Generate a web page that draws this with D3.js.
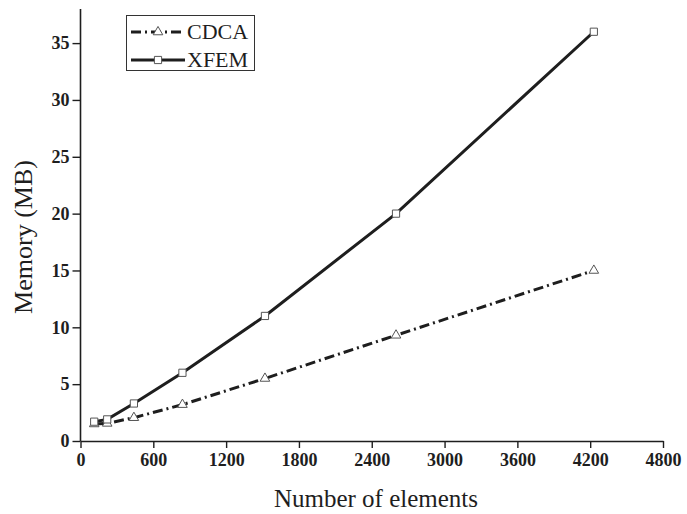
<!DOCTYPE html>
<html>
<head>
<meta charset="utf-8">
<script src="https://cdn.jsdelivr.net/npm/d3@7"></script>
<style>
  body { margin: 0; background: #fff; }
  svg { display: block; font-family: "Liberation Serif", "Times New Roman", serif; }
</style>
</head>
<body>
<svg width="687" height="514"></svg>
<script>
// element counts and memory use
const elements = [113, 220, 440, 840, 1520, 2600, 4230];
const cdca = [1.5, 1.55, 2.05, 3.2, 5.5, 9.3, 15.0];
const xfem = [1.7, 1.9, 3.3, 6.0, 11.0, 20.0, 36.0];
const xTicks = [0, 600, 1200, 1800, 2400, 3000, 3600, 4200, 4800];
const yTicks = [0, 5, 10, 15, 20, 25, 30, 35];

const svg = d3.select("svg");
const ink = "#1e1e1e";

const x = d3.scaleLinear().domain([0, 4800]).range([80.5, 663]);
const y = d3.scaleLinear().domain([0, 38]).range([441, 9]);

// axes
const xAxis = svg.append("g").attr("transform", "translate(0,441)")
  .call(d3.axisBottom(x).tickValues(xTicks).tickFormat(d3.format("d"))
    .tickSize(7).tickPadding(5).tickSizeOuter(0));
const yAxis = svg.append("g").attr("transform", "translate(80.5,0)")
  .call(d3.axisLeft(y).tickValues(yTicks).tickFormat(d3.format("d"))
    .tickSize(8).tickPadding(3).tickSizeOuter(0));

[xAxis, yAxis].forEach(a => {
  a.attr("font-family", null).attr("font-size", null);
  a.select(".domain").attr("stroke", ink).attr("stroke-width", 1.6);
  a.selectAll(".tick line").attr("stroke", ink).attr("stroke-width", 1.4);
  a.selectAll(".tick text").attr("fill", ink)
    .style("font-size", "18px").style("font-weight", "bold");
});
// y axis line runs past the bottom, left tick at zero crosses
yAxis.select(".domain").attr("d", "M0,441V9");

// axis titles
svg.append("text").attr("x", 376).attr("y", 507).attr("text-anchor", "middle")
  .attr("fill", ink).style("font-size", "25px").text("Number of elements");
svg.append("text").attr("transform", "translate(32,237) rotate(-90)").attr("text-anchor", "middle")
  .attr("fill", ink).style("font-size", "26px").text("Memory (MB)");

const line = vals => d3.line().x((d, i) => x(elements[i])).y(d => y(d))(vals);

// CDCA dash-dot
svg.append("path").attr("d", line(cdca)).attr("fill", "none")
  .attr("stroke", ink).attr("stroke-width", 3).attr("stroke-dasharray", "10,4,2,4");
// XFEM solid
svg.append("path").attr("d", line(xfem)).attr("fill", "none")
  .attr("stroke", ink).attr("stroke-width", 3);

const tri = d3.symbol().type(d3.symbolTriangle).size(40);
const sq = d3.symbol().type(d3.symbolSquare).size(52);

svg.append("g").selectAll("path").data(cdca).enter().append("path")
  .attr("d", tri).attr("transform", (d, i) => `translate(${x(elements[i])},${y(d)})`)
  .attr("fill", "#fff").attr("stroke", "#555").attr("stroke-width", 1);
svg.append("g").selectAll("path").data(xfem).enter().append("path")
  .attr("d", sq).attr("transform", (d, i) => `translate(${x(elements[i])},${y(d)})`)
  .attr("fill", "#fff").attr("stroke", "#555").attr("stroke-width", 1);

// legend
const lg = svg.append("g");
lg.append("rect").attr("x", 126.5).attr("y", 15.5).attr("width", 128).attr("height", 55)
  .attr("fill", "#fff").attr("stroke", "#333").attr("stroke-width", 1);
const items = [
  {name: "CDCA", dash: "10,4,2,4", sym: tri, y: 32},
  {name: "XFEM", dash: null, sym: sq, y: 60}
];
items.forEach(it => {
  lg.append("line").attr("x1", 131).attr("x2", 185).attr("y1", it.y).attr("y2", it.y)
    .attr("stroke", ink).attr("stroke-width", 3).attr("stroke-dasharray", it.dash);
  lg.append("path").attr("d", it.sym).attr("transform", `translate(158,${it.y})`)
    .attr("fill", "#fff").attr("stroke", "#555");
  lg.append("text").attr("x", 187).attr("y", it.y + 7).attr("fill", ink)
    .style("font-size", "22px").text(it.name);
});
</script>
</body>
</html>
